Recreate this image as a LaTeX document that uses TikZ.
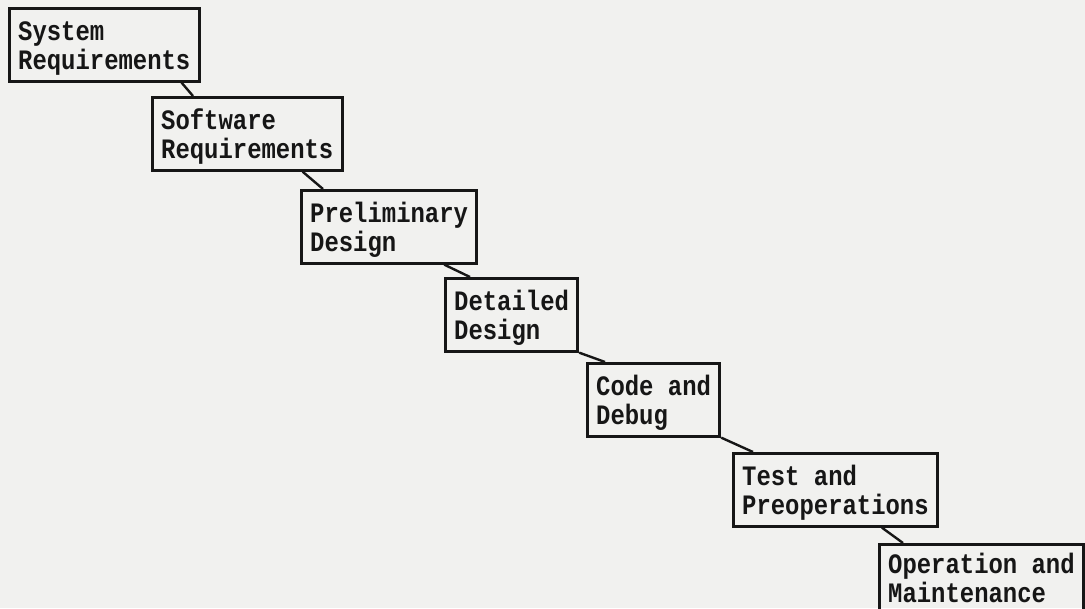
\documentclass[tikz,border=0pt]{standalone}
\usepackage{fontspec}
\setmonofont[FakeStretch=0.85]{Liberation Mono}
\usetikzlibrary{calc}
\definecolor{paper}{RGB}{241,241,239}
\definecolor{ink}{RGB}{22,22,22}

\begin{document}
\begin{tikzpicture}[
            x=0.025cm, y=-0.025cm,
            phase/.style={rectangle, draw=ink, line width=2pt, anchor=north west, align=left,
                inner xsep=0.22cm, inner ysep=0pt, text height=1.52cm, text depth=0.3cm, text=ink,
                font=\ttfamily\bfseries\fontsize{20}{20.6}\selectfont},
            link/.style={draw=ink, line width=1.7pt}
        ]
            \fill[paper] (0,0) rectangle (1085,608);
            \useasboundingbox (0,0) rectangle (1085,608);
            \clip (0,0) rectangle (1085,608);
            \node[phase] (sysreq) at (8,7) {System\\Requirements};
            \node[phase] (swreq) at (151,96) {Software\\Requirements};
            \node[phase] (prelim) at (300,189) {Preliminary\\Design};
            \node[phase] (detail) at (444,277) {Detailed\\Design};
            \node[phase] (code) at (586,362) {Code and\\Debug};
            \node[phase] (test) at (732,452) {Test and\\Preoperations};
            \node[phase, text height=1.45cm] (oper) at (878,543) {Operation and\\Maintenance};
            \draw[link] ($(sysreq.south east)+(-19,0)$) -- ($(swreq.north west)+(42,0)$);
            \draw[link] ($(swreq.south east)+(-41,0)$) -- ($(prelim.north west)+(23,0)$);
            \draw[link] ($(prelim.south east)+(-34,0)$) -- ($(detail.north west)+(26,0)$);
            \draw[link] (detail.south east) -- ($(code.north west)+(19,0)$);
            \draw[link] (code.south east) -- ($(test.north west)+(21,0)$);
            \draw[link] ($(test.south east)+(-57,0)$) -- ($(oper.north west)+(25,0)$);
        \end{tikzpicture}
\end{document}
